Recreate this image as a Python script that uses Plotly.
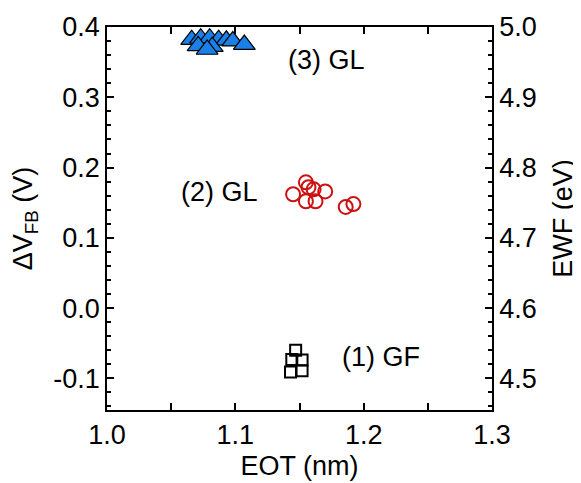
import plotly.graph_objects as go

# Data
gf_eot = [1.147, 1.144, 1.152, 1.143, 1.152]
gf_dvfb = [-0.060, -0.073, -0.074, -0.091, -0.089]

gl2_eot = [1.145, 1.155, 1.157, 1.161, 1.155, 1.1625, 1.170, 1.186, 1.192]
gl2_dvfb = [0.162, 0.179, 0.172, 0.169, 0.152, 0.152, 0.166, 0.144, 0.148]

gl3_eot = [1.066, 1.073, 1.080, 1.087, 1.093, 1.098, 1.107, 1.071, 1.082, 1.078]
gl3_dvfb = [0.382, 0.384, 0.384, 0.382, 0.381, 0.380, 0.375, 0.373, 0.372, 0.368]

x_ticks = [1.0, 1.1, 1.2, 1.3]
x_ticktext = ["1.0", "1.1", "1.2", "1.3"]
y_ticks = [-0.1, 0.0, 0.1, 0.2, 0.3, 0.4]
y_ticktext = ["-0.1", "0.0", "0.1", "0.2", "0.3", "0.4"]
y2_ticks = [4.5, 4.6, 4.7, 4.8, 4.9, 5.0]
y2_ticktext = ["4.5", "4.6", "4.7", "4.8", "4.9", "5.0"]

labels = ["(1) GF", "(2) GL", "(3) GL"]
label_x = [1.2135, 1.088, 1.171]
label_y = [-0.069, 0.165, 0.353]

FONT = "Arial, Liberation Sans, sans-serif"
FS = 27

fig = go.Figure()
fig.add_trace(go.Scatter(
    x=gf_eot, y=gf_dvfb, mode="markers",
    marker=dict(symbol="square-open", size=11, color="black", line=dict(width=2, color="black")),
    showlegend=False))
fig.add_trace(go.Scatter(
    x=gl2_eot, y=gl2_dvfb, mode="markers",
    marker=dict(symbol="circle-open", size=14, color="#cc1111", line=dict(width=2, color="#cc1111")),
    showlegend=False))
fig.add_trace(go.Scatter(
    x=gl3_eot, y=gl3_dvfb, mode="markers",
    marker=dict(symbol="triangle-up", size=19, color="#1a7fe6", line=dict(width=1.2, color="black")),
    showlegend=False))
# empty trace so that the right-hand EWF axis is drawn
fig.add_trace(go.Scatter(x=[None], y=[None], yaxis="y2", mode="markers",
                         showlegend=False, hoverinfo="skip"))

for t, xx, yy in zip(labels, label_x, label_y):
    fig.add_annotation(x=xx, y=yy, text=t, showarrow=False, xref="x", yref="y",
                       font=dict(family=FONT, size=FS, color="black"))

axis_common = dict(
    showline=True, linecolor="black", linewidth=1.5,
    ticks="inside", ticklen=7, tickwidth=1.5, tickcolor="black",
    showgrid=False, zeroline=False, automargin=False,
    tickfont=dict(family=FONT, size=FS, color="black"),
)

fig.update_layout(
    width=573, height=475,
    margin=dict(l=99, r=89, t=19, b=73),
    paper_bgcolor="white", plot_bgcolor="white",
    font=dict(family=FONT, color="black"),
    xaxis=dict(
        range=[1.0, 1.3], tickvals=x_ticks, ticktext=x_ticktext, mirror="allticks",
        minor=dict(dtick=0.05, tick0=1.0, ticks="inside", ticklen=4, tickwidth=1.5, tickcolor="black"),
        title=dict(text="EOT (nm)", font=dict(family=FONT, size=FS), standoff=7),
        **axis_common),
    yaxis=dict(
        range=[-0.145, 0.4], tickvals=y_ticks, ticktext=y_ticktext,
        minor=dict(dtick=0.02, tick0=0.0, ticks="inside", ticklen=4, tickwidth=1.5, tickcolor="black"),
        title=dict(text="ΔV<sub>FB</sub> (V)", font=dict(family=FONT, size=FS), standoff=16),
        **axis_common),
    yaxis2=dict(
        range=[4.455, 5.0], tickvals=y2_ticks, ticktext=y2_ticktext,
        overlaying="y", side="right", anchor="x",
        minor=dict(dtick=0.02, tick0=4.5, ticks="inside", ticklen=4, tickwidth=1.5, tickcolor="black"),
        title=dict(text="EWF (eV)", font=dict(family=FONT, size=FS), standoff=17),
        **axis_common),
)

fig.write_html("out.html")
